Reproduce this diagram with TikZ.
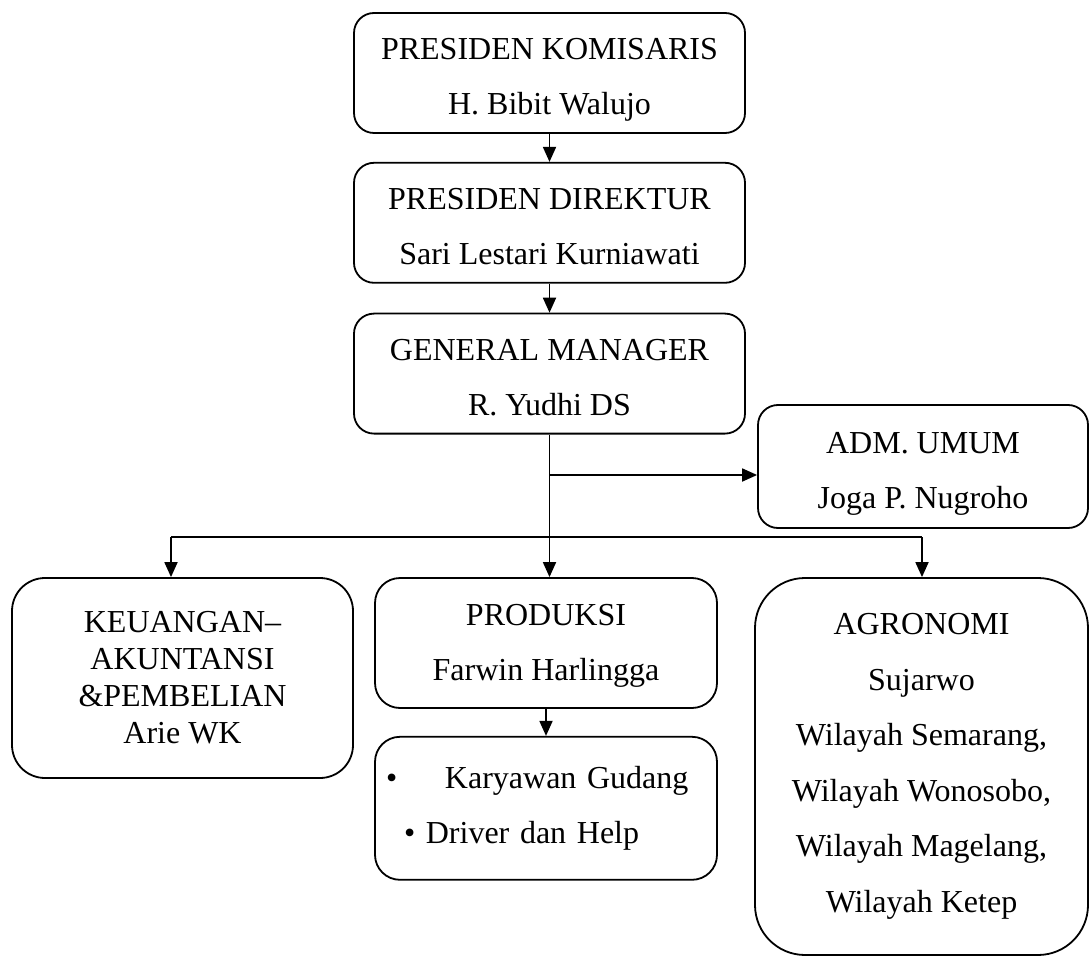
\documentclass[tikz,border=0pt]{standalone}
\usepackage{fontspec}
\setmainfont{Liberation Serif}
\usetikzlibrary{shapes, arrows, positioning, calc}
\usetikzlibrary{arrows.meta}

\begin{document}
\begin{tikzpicture}[
    x=1pt, y=-1pt,
    every node/.style={rectangle, draw, line width=1.8pt, align=center, inner sep=0pt, font=\fontsize{32}{55}\selectfont},
    headbox/.style={rounded corners=20pt, minimum width=391pt, minimum height=120pt, text height=102pt, text depth=18pt},
    unitbox/.style={rounded corners=25pt, minimum width=342pt},
    link/.style={line width=1.8pt, -{Triangle[length=15pt, width=13pt]}},
    bus/.style={line width=1.8pt}
]
\useasboundingbox (0,0) rectangle (1089,957);

\node[headbox] (pk) at (549.5,73) {PRESIDEN KOMISARIS\\H. Bibit Walujo};
\node[headbox, below=28pt of pk] (pd) {PRESIDEN DIREKTUR\\Sari Lestari Kurniawati};
\node[headbox, below=29pt of pd] (gm) {GENERAL MANAGER\\R. Yudhi DS};

\node[rounded corners=20pt, minimum width=330pt, minimum height=123pt, text height=103pt, text depth=20pt] (adm) at (923,466.5) {ADM. UMUM\\Joga P. Nugroho};

\node[rounded corners=33pt, minimum width=341pt, minimum height=200pt, font=\fontsize{32}{37}\selectfont] (keu) at (182.5,678) {KEUANGAN–\\AKUNTANSI\\\&PEMBELIAN\\Arie WK};
\node[unitbox, minimum height=130pt, text height=102pt, text depth=28pt] (prod) at (546,643) {PRODUKSI\\Farwin Harlingga};
\node[unitbox, below=27pt of prod, minimum height=143pt, align=left, text width=320pt, inner xsep=11pt] (kary) {\makebox[59pt][l]{•}Karyawan Gudang\\\hspace*{18pt}• Driver dan Help};
\node[rounded corners=50pt, minimum width=333pt, minimum height=377pt, font=\fontsize{32}{55.5}\selectfont] (agro) at (921.5,766.5) {AGRONOMI\\Sujarwo\\Wilayah Semarang,\\Wilayah Wonosobo,\\Wilayah Magelang,\\Wilayah Ketep};

\coordinate (branch) at (549.5,475);
\coordinate (busL) at (171,537);
\coordinate (busR) at (922,537);

\draw[link] (pk) -- (pd);
\draw[link] (pd) -- (gm);
\draw[link] (gm.south) -- (gm.south |- prod.north);
\draw[link] (branch) -- (branch -| adm.west);
\draw[bus] (busL) -- (busR);
\draw[link] (busL) -- (busL |- keu.north);
\draw[link] (busR) -- (busR |- agro.north);
\draw[link] (prod) -- (kary);

\end{tikzpicture}
\end{document}
